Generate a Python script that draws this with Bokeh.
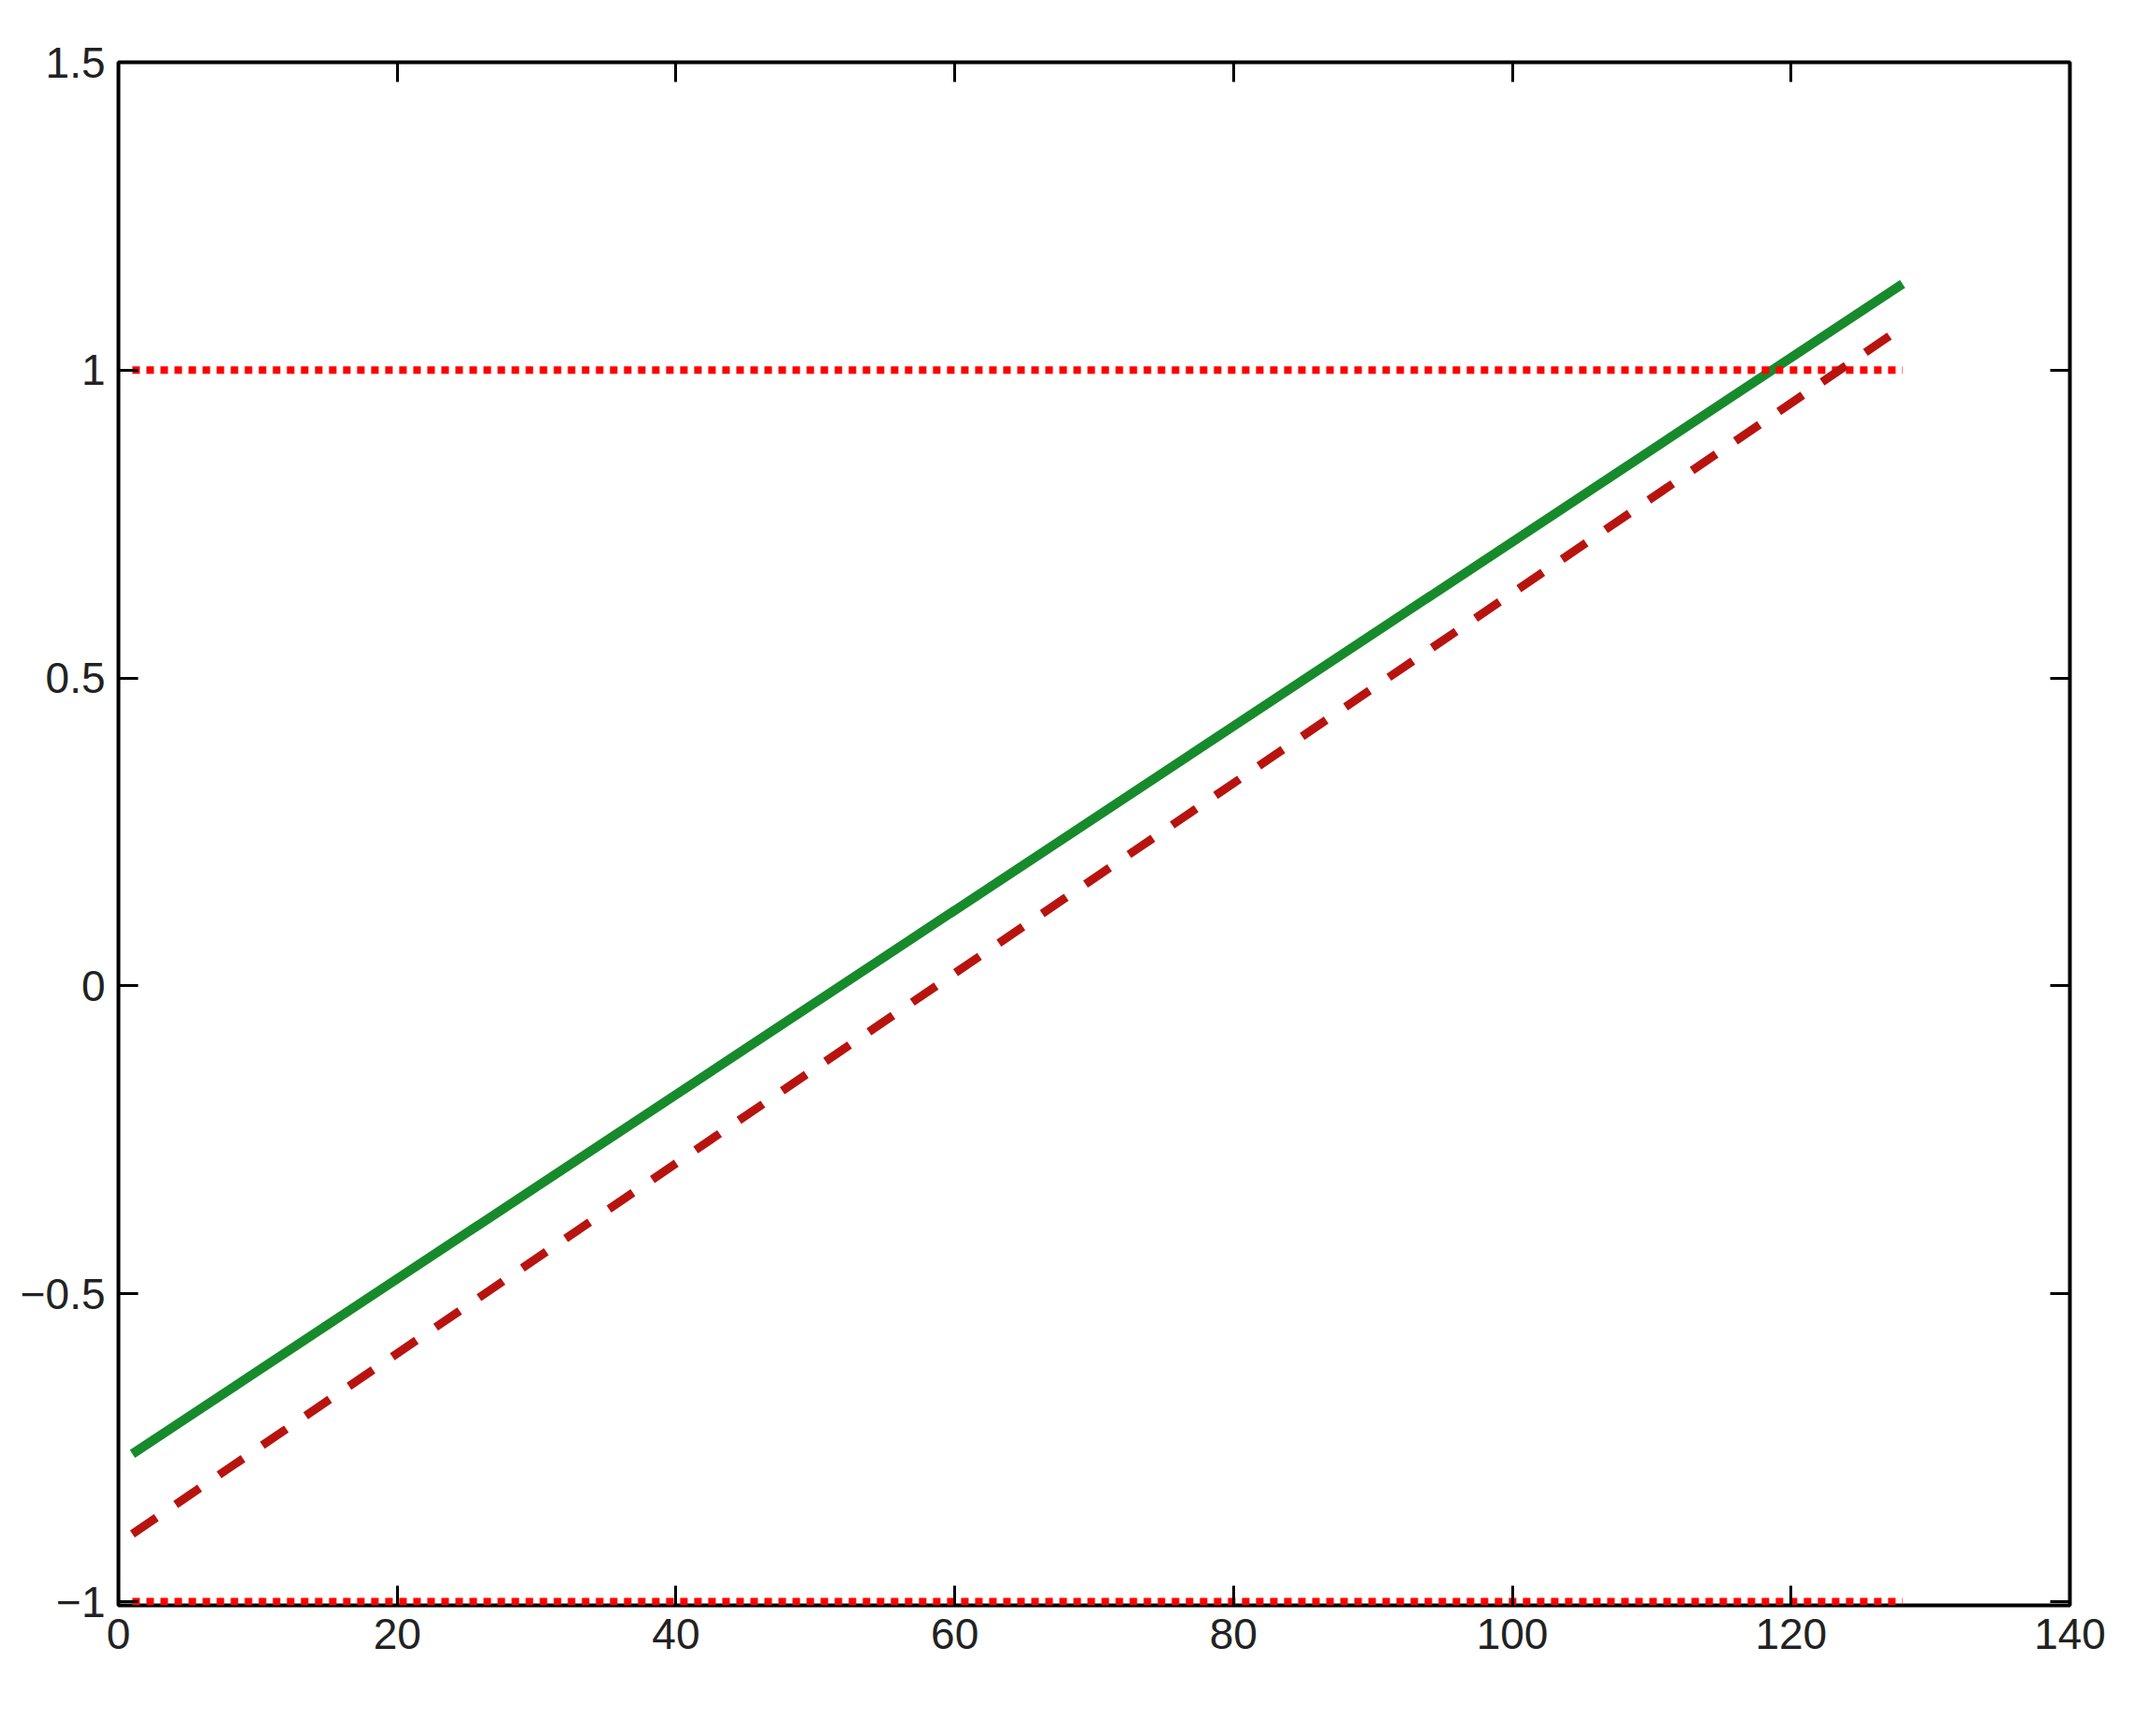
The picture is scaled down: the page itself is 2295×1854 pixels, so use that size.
from bokeh.plotting import figure
from bokeh.models import Range1d, LinearAxis, FixedTicker
from bokeh.embed import file_html
from bokeh.resources import INLINE

# data
x_pts = [1, 128]
green_y = [-0.76, 1.14]
dashed_y = [-0.89, 1.07]
upper_y = [1, 1]
lower_y = [-1, -1]
x_ticks = [0, 20, 40, 60, 80, 100, 120, 140]
y_ticks = [-1, -0.5, 0, 0.5, 1, 1.5]
y_labels = {-1: "\u22121", -0.5: "\u22120.5", 0: "0", 0.5: "0.5", 1: "1", 1.5: "1.5"}

FONT = "Liberation Sans"
FS = "46px"
TXT = "#222222"

p = figure(width=2279, height=1838, output_backend="svg", toolbar_location=None,
           x_range=Range1d(0, 140), y_range=Range1d(-1.006, 1.5),
           x_axis_location=None, y_axis_location=None,
           min_border_left=126, min_border_top=66, min_border_right=69, min_border_bottom=124)
p.grid.visible = False
p.outline_line_color = "black"
p.outline_line_width = 4
p.background_fill_color = "white"
p.border_fill_color = "white"

def mk_axis(loc, ticks, labels=None, show=True):
    ax = LinearAxis(ticker=FixedTicker(ticks=ticks))
    ax.axis_line_color = None
    ax.major_tick_in = 21
    ax.major_tick_out = 0
    ax.major_tick_line_color = "black"
    ax.major_tick_line_width = 3
    ax.minor_tick_line_color = None
    ax.major_label_text_font = FONT
    if show:
        ax.major_label_text_font_size = FS
        ax.major_label_text_color = TXT
        ax.major_label_standoff = 14
    else:
        ax.major_label_text_font_size = "1px"
        ax.major_label_text_color = None
        ax.major_label_standoff = 0
    if labels:
        ax.major_label_overrides = labels
    p.add_layout(ax, loc)
    return ax

mk_axis("below", x_ticks)
mk_axis("left", y_ticks, y_labels)
mk_axis("above", x_ticks, show=False)
mk_axis("right", y_ticks, show=False)

p.line(x_pts, green_y, line_color="#178a2c", line_width=10)
p.line(x_pts, upper_y, line_color="#ff0000", line_width=8, line_dash="8 7")
p.line(x_pts, lower_y, line_color="#ff0000", line_width=8, line_dash="8 7")
p.line(x_pts, dashed_y, line_color="#b8140f", line_width=9, line_dash="31 25")

open("out.html", "w").write(file_html(p, INLINE))
